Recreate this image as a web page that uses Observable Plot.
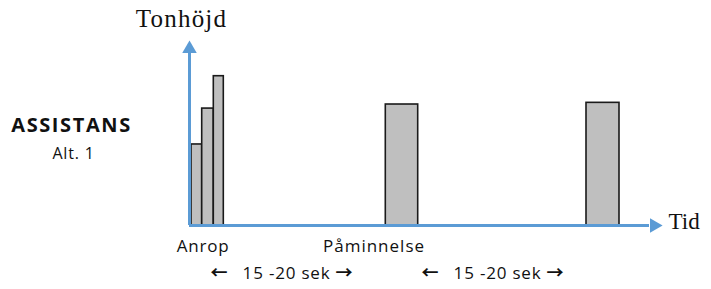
<!DOCTYPE html>
<html>
<head>
<meta charset="utf-8">
<script src="https://cdn.jsdelivr.net/npm/d3@7"></script>
<script src="https://cdn.jsdelivr.net/npm/@observablehq/plot@0.6"></script>
<style>
  html, body { margin: 0; padding: 0; background: #fff; }
  #chart svg { display: block; }
</style>
</head>
<body>
<div id="chart"></div>
<script>
// Tones (seconds on the time axis, relative pitch 0–100)
const toneStart = [0.2, 1.27, 2.43, 19.63, 39.7];
const toneEnd   = [1.27, 2.43, 3.43, 22.87, 43.0];
const tonePitch = [43.8, 63.2, 80.7, 65.4, 66.3];

// Event labels under the time axis
const eventLabels = ["Anrop", "Påminnelse"];
const eventTimes  = [1.35, 18.45];

// Interval labels
const intervalLabels = ["← 15 -20 sek →", "← 15 -20 sek →"];
const intervalTimes  = [9.25, 30.35];

// Axis names and side title
const yAxisName = "Tonhöjd";
const xAxisName = "Tid";
const sideTitle = ["ASSISTANS", "Alt. 1"];

const xMax = 47.3, yMax = 100;

const tones = toneStart.map((s, i) => ({s, e: toneEnd[i], p: tonePitch[i]}));
const events = eventLabels.map((t, i) => ({t, x: eventTimes[i]}));
const intervals = intervalLabels.map((t, i) => ({t, x: intervalTimes[i]}));

const blue = "#5b9bd5";
const sans = "'Open Sans', sans-serif";
const serif = "'Liberation Serif', 'Times New Roman', serif";

const chart = Plot.plot({
  width: 711,
  height: 289,
  marginLeft: 189,
  marginRight: 49,
  marginTop: 40,
  marginBottom: 64,
  x: {domain: [0, xMax], axis: null},
  y: {domain: [0, yMax], axis: null},
  marks: [
    Plot.rectY(tones, {x1: "s", x2: "e", y1: 0, y2: "p", fill: "#bfbfbf", stroke: "#1a1a1a", strokeWidth: 1.6}),
    // axes
    Plot.ruleX([0], {y1: 0, y2: 93, stroke: blue, strokeWidth: 3}),
    Plot.ruleY([0], {x1: 0, x2: xMax - 1.3, stroke: blue, strokeWidth: 3}),
    Plot.dot([0], {x: 0, y: yMax, symbol: "triangle", r: 5.4, fill: blue, stroke: "none", dy: 8.3}),
    Plot.dot([0], {x: xMax, y: 0, symbol: "triangle", r: 5.4, fill: blue, stroke: "none", rotate: 90, dx: -8.3}),
    // axis names
    Plot.text([yAxisName], {x: 0, y: yMax, text: d => d, dx: -8, dy: -22, fontFamily: serif, fontSize: 25, fill: "#111", textAnchor: "middle"}),
    Plot.text([xAxisName], {x: xMax, y: 0, text: d => d, dx: 6, dy: -4, fontFamily: serif, fontSize: 23, fill: "#111", textAnchor: "start"}),
    // event labels
    Plot.text(events, {x: "x", y: 0, text: "t", dy: 21, fontFamily: sans, fontSize: 17, fill: "#111"}),
    Plot.text(intervals, {x: "x", y: 0, text: "t", dy: 48, fontFamily: sans, fontSize: 17, fill: "#111"}),
    // side title
    Plot.text([sideTitle[0]], {x: -11.8, y: 50, text: d => d, dy: -7, fontFamily: sans, fontSize: 20, fontWeight: "bold", fill: "#111"}),
    Plot.text([sideTitle[1]], {x: -11.6, y: 50, text: d => d, dy: 21, fontFamily: sans, fontSize: 16, fill: "#111"})
  ]
});

// typographic tweaks: letter spacing and full-width arrows
const spacing = new Map([
  [eventLabels[0], "0.8px"], [eventLabels[1], "1px"],
  [sideTitle[0], "1.6px"], [sideTitle[1], "0.8px"],
  [yAxisName, "1.2px"]
]);
d3.select(chart).selectAll("text").each(function() {
  const t = d3.select(this);
  const s = t.text();
  if (spacing.has(s)) t.style("letter-spacing", spacing.get(s));
  if (intervalLabels.includes(s)) {
    t.text(null).style("letter-spacing", "0.8px");
    const parts = s.split(/([←→])/).filter(p => p);
    parts.forEach((part, i) => {
      const span = t.append("tspan").text(part);
      if (part === "←" || part === "→") {
        span.style("font-family", "'Noto Sans CJK JP', 'DejaVu Sans', sans-serif")
            .style("font-weight", "600");
      }
      if (i === 1) span.attr("dx", 9);
    });
  }
});

document.getElementById("chart").appendChild(chart);
</script>
</body>
</html>
